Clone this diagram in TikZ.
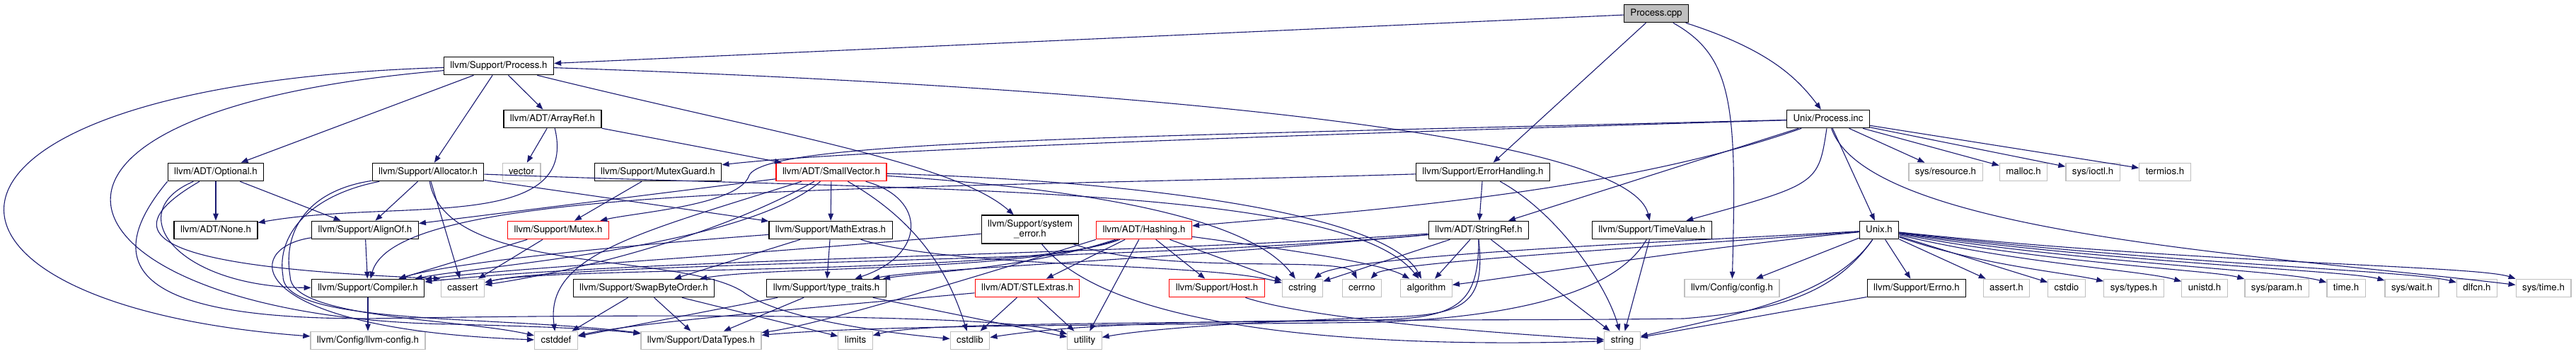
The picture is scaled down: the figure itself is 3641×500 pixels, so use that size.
\documentclass[tikz,border=0pt]{standalone}
\usepackage{fontspec}
\setmainfont{TeX Gyre Heros}
\usepackage{xcolor}
\usepackage{tikz}
\usetikzlibrary{arrows.meta}
\definecolor{edgeblue}{HTML}{191970}
\definecolor{grey75}{HTML}{BFBFBF}

\begin{document}
\begin{tikzpicture}[
      x=1pt, y=-1pt,
      inc/.style={draw=black, line width=1.2pt, fill=white, inner xsep=9pt, inner ysep=0pt,
        minimum height=25.5pt, text height=9.6pt, text depth=3pt,
        font=\fontsize{13.3}{14}\selectfont},
      ext/.style={inc, draw=grey75},
      cut/.style={inc, draw=red},
      root/.style={inc, fill=grey75},
      dep/.style={draw=edgeblue, line width=1.1pt, -{Triangle[length=10pt,width=7.5pt]}}
    ]
      \useasboundingbox (0,0) rectangle (3641,500);

      % row 0 to 2
      \node[root] (pcpp) at (2341,19) {Process.cpp};
      \node[inc] (ph) at (705,93) {llvm/Support/Process.h};
      \node[inc] (aref) at (781,168) {llvm/ADT/ArrayRef.h};
      \node[inc] (pinc) at (2584,168) {Unix/Process.inc};

      % row 3
      \node[inc] (opt) at (305,243) {llvm/ADT/Optional.h};
      \node[inc] (alloc) at (605,243) {llvm/Support/Allocator.h};
      \node[ext] (vec) at (737,243) {vector};
      \node[inc] (mguard) at (930,243) {llvm/Support/MutexGuard.h};
      \node[cut] (svec) at (1175,243) {llvm/ADT/SmallVector.h};
      \node[inc] (errh) at (2096,243) {llvm/Support/ErrorHandling.h};
      \node[ext] (sysres) at (2750,243) {sys/resource.h};
      \node[ext] (malloc) at (2860,243) {malloc.h};
      \node[ext] (ioctl) at (2958,243) {sys/ioctl.h};
      \node[ext] (termios) at (3060,243) {termios.h};

      % row 4
      \node[inc] (none) at (305,325) {llvm/ADT/None.h};
      \node[inc] (align) at (516,325) {llvm/Support/AlignOf.h};
      \node[cut] (mutex) at (789,325) {llvm/Support/Mutex.h};
      \node[inc] (mathx) at (1174,325) {llvm/Support/MathExtras.h};
      \node[inc, align=center, minimum height=40pt, text height=23.6pt, text depth=3pt]
        (syserr) at (1456,324) {llvm/Support/system\\\_error.h};
      \node[cut] (hash) at (1617,325) {llvm/ADT/Hashing.h};
      \node[inc] (sref) at (2090,325) {llvm/ADT/StringRef.h};
      \node[inc] (tval) at (2335,325) {llvm/Support/TimeValue.h};
      \node[inc] (unixh) at (2656,325) {Unix.h};

      % row 5
      \node[inc] (comp) at (520,407) {llvm/Support/Compiler.h};
      \node[ext] (cassert) at (654,407) {cassert};
      \node[inc] (swap) at (910,407) {llvm/Support/SwapByteOrder.h};
      \node[inc] (ttr) at (1168,407) {llvm/Support/type\_traits.h};
      \node[cut] (stlx) at (1452,407) {llvm/ADT/STLExtras.h};
      \node[cut] (host) at (1720,407) {llvm/Support/Host.h};
      \node[ext] (cstring) at (1841,407) {cstring};
      \node[ext] (cerrno) at (1925,407) {cerrno};
      \node[ext] (algo) at (2016,407) {algorithm};
      \node[ext] (cfg) at (2448,407) {llvm/Config/config.h};
      \node[inc] (errno) at (2709,407) {llvm/Support/Errno.h};
      \node[ext] (asserth) at (2836,407) {assert.h};
      \node[ext] (cstdio) at (2921,407) {cstdio};
      \node[ext] (systypes) at (3016,407) {sys/types.h};
      \node[ext] (unistd) at (3116,407) {unistd.h};
      \node[ext] (sysparam) at (3218,407) {sys/param.h};
      \node[ext] (timeh) at (3316,407) {time.h};
      \node[ext] (syswait) at (3409,407) {sys/wait.h};
      \node[ext] (dlfcn) at (3501,407) {dlfcn.h};
      \node[ext] (systime) at (3595,407) {sys/time.h};

      % row 6
      \node[ext] (lcfg) at (520,481) {llvm/Config/llvm-config.h};
      \node[ext] (cstddef) at (786,481) {cstddef};
      \node[ext] (dtypes) at (991,481) {llvm/Support/DataTypes.h};
      \node[ext] (limits) at (1209,481) {limits};
      \node[ext] (cstdlib) at (1371,481) {cstdlib};
      \node[ext] (utility) at (1533,481) {utility};
      \node[ext] (string) at (2293,481) {string};

      % Process.cpp
      \draw[dep] (pcpp) -- (ph);
      \draw[dep] (pcpp) -- (errh);
      \draw[dep] (pcpp) .. controls (2450,80) and (2455,150) .. (cfg);
      \draw[dep] (pcpp) .. controls (2500,70) and (2540,110) .. (pinc);

      % Process.h
      \draw[dep] (ph) -- (opt);
      \draw[dep] (ph) -- (alloc);
      \draw[dep] (ph) -- (aref);
      \draw[dep] (ph) .. controls (-165,120) and (-165,430) .. (lcfg);
      \draw[dep] (ph) .. controls (-80,160) and (80,450) .. (640,458) .. controls (800,462) and (860,466) .. (dtypes);
      \draw[dep] (ph) .. controls (1500,120) and (2300,180) .. (tval);
      \draw[dep] (ph) .. controls (1100,190) and (1350,230) .. (syserr);

      % ArrayRef.h, Optional.h
      \draw[dep] (aref) -- (vec);
      \draw[dep] (aref) -- (svec);
      \draw[dep] (aref) .. controls (820,330) and (560,280) .. (none);
      \draw[dep] (opt) -- (none);
      \draw[dep] (opt) -- (align);
      \draw[dep] (opt) .. controls (170,300) and (250,405) .. (comp);
      \draw[dep] (opt) .. controls (120,350) and (300,380) .. (cassert.north west);
      \draw[dep] (opt.south west) .. controls (100,420) and (300,450) .. (520,450) .. controls (800,445) and (1420,440) .. (utility);

      % Allocator.h
      \draw[dep] (alloc) -- (align);
      \draw[dep] (alloc) -- (mathx);
      \draw[dep] (alloc) -- (cassert);
      \draw[dep] (alloc) .. controls (430,270) and (400,330) .. (410,390) .. controls (410,450) and (650,450) .. (cstddef);
      \draw[dep] (alloc) .. controls (440,275) and (390,330) .. (400,390) .. controls (400,460) and (700,445) .. (dtypes);
      \draw[dep] (alloc) .. controls (630,390) and (960,355) .. (1050,412) .. controls (1100,450) and (1250,470) .. (cstdlib);
      \draw[dep] (alloc) .. controls (1300,270) and (1900,260) .. (algo);

      % MutexGuard.h, Mutex.h
      \draw[dep] (mguard) -- (mutex);
      \draw[dep] (mutex) -- (comp);
      \draw[dep] (mutex) -- (cassert);

      % SmallVector.h
      \draw[dep] (svec) -- (align);
      \draw[dep] (svec) -- (mathx);
      \draw[dep] (svec) .. controls (1050,350) and (680,375) .. (comp);
      \draw[dep] (svec) .. controls (1000,340) and (800,385) .. (cassert);
      \draw[dep] (svec) .. controls (900,330) and (770,360) .. (cstddef);
      \draw[dep] (svec) .. controls (1310,280) and (1310,360) .. (ttr);
      \draw[dep] (svec) .. controls (1310,320) and (1345,400) .. (cstdlib);
      \draw[dep] (svec) .. controls (1600,255) and (1960,300) .. (algo);
      \draw[dep] (svec) .. controls (1500,265) and (1760,300) .. (cstring);

      % MathExtras.h, system_error.h
      \draw[dep] (mathx) -- (swap);
      \draw[dep] (mathx) -- (ttr);
      \draw[dep] (mathx) .. controls (900,345) and (640,370) .. (comp);
      \draw[dep] (mathx) .. controls (1350,380) and (1700,370) .. (cstring);
      \draw[dep] (syserr) .. controls (1000,365) and (700,380) .. (comp);
      \draw[dep] (syserr) .. controls (1650,390) and (1900,360) .. (cerrno);
      \draw[dep] (syserr) .. controls (1580,480) and (2000,490) .. (string);

      % Hashing.h, STLExtras.h, Host.h
      \draw[dep] (hash) -- (stlx);
      \draw[dep] (hash) -- (host);
      \draw[dep] (hash) -- (utility);
      \draw[dep] (hash) -- (cstring);
      \draw[dep] (hash) .. controls (1800,350) and (1950,370) .. (algo);
      \draw[dep] (hash) .. controls (1450,380) and (1300,385) .. (ttr);
      \draw[dep] (hash) .. controls (1450,385) and (1100,375) .. (swap);
      \draw[dep] (hash) .. controls (1450,390) and (780,375) .. (cassert);
      \draw[dep] (hash.south west) .. controls (1350,400) and (1150,460) .. (dtypes);
      \draw[dep] (stlx) .. controls (1200,430) and (900,455) .. (cstddef);
      \draw[dep] (stlx) -- (cstdlib);
      \draw[dep] (stlx) -- (utility);
      \draw[dep] (host) .. controls (1850,450) and (2100,470) .. (string);

      % SwapByteOrder.h, type_traits.h, AlignOf.h, Compiler.h
      \draw[dep] (swap) -- (cstddef);
      \draw[dep] (swap) -- (dtypes);
      \draw[dep] (swap) -- (limits);
      \draw[dep] (ttr) -- (dtypes);
      \draw[dep] (ttr) -- (cstddef);
      \draw[dep] (ttr) -- (utility);
      \draw[dep] (align) -- (comp);
      \draw[dep] (align) .. controls (340,350) and (340,465) .. (cstddef);
      \draw[dep] (comp) -- (lcfg);

      % ErrorHandling.h, StringRef.h, TimeValue.h
      \draw[dep] (errh) -- (sref);
      \draw[dep] (errh) .. controls (1200,270) and (560,260) .. (comp);
      \draw[dep] (errh) .. controls (2200,300) and (2270,400) .. (string);
      \draw[dep] (sref) -- (algo);
      \draw[dep] (sref) -- (cstring);
      \draw[dep] (sref) -- (string);
      \draw[dep] (sref) .. controls (1600,360) and (900,365) .. (comp);
      \draw[dep] (sref) .. controls (1600,370) and (1300,380) .. (ttr);
      \draw[dep] (sref) .. controls (1600,370) and (800,370) .. (cassert);
      \draw[dep] (sref.south) .. controls (2090,430) and (2060,448) .. (1950,452) .. controls (1600,458) and (1300,455) .. (limits);
      \draw[dep] (sref.south) .. controls (2100,430) and (2070,445) .. (1960,448) .. controls (1750,455) and (1620,465) .. (utility);
      \draw[dep] (tval) -- (string);
      \draw[dep] (tval) .. controls (2280,420) and (2120,448) .. (1950,455) .. controls (1600,460) and (1250,458) .. (dtypes);

      % Unix/Process.inc
      \draw[dep] (pinc) -- (unixh);
      \draw[dep] (pinc) -- (sref);
      \draw[dep] (pinc) -- (sysres);
      \draw[dep] (pinc) -- (malloc);
      \draw[dep] (pinc) -- (ioctl);
      \draw[dep] (pinc) -- (termios);
      \draw[dep] (pinc) .. controls (2570,260) .. (tval);
      \draw[dep] (pinc) .. controls (2280,275) and (1900,300) .. (hash);
      \draw[dep] (pinc) .. controls (1500,200) and (1150,218) .. (mguard);
      \draw[dep] (pinc) .. controls (1500,195) and (1070,200) .. (1058,250) .. controls (1040,290) and (900,300) .. (mutex);
      \draw[dep] (pinc) .. controls (2640,330) and (3200,360) .. (systime);

      % Unix.h
      \draw[dep] (unixh) -- (cfg);
      \draw[dep] (unixh) -- (errno);
      \draw[dep] (unixh) -- (asserth);
      \draw[dep] (unixh) -- (cstdio);
      \draw[dep] (unixh) .. controls (2800,375) and (2920,385) .. (systypes);
      \draw[dep] (unixh) .. controls (2850,372) and (3030,382) .. (unistd);
      \draw[dep] (unixh) .. controls (2900,372) and (3130,382) .. (sysparam);
      \draw[dep] (unixh) .. controls (2950,372) and (3230,382) .. (timeh);
      \draw[dep] (unixh) .. controls (3000,372) and (3320,382) .. (syswait);
      \draw[dep] (unixh) .. controls (3050,372) and (3410,382) .. (dlfcn);
      \draw[dep] (unixh) .. controls (3100,372) and (3500,375) .. (systime);
      \draw[dep] (unixh) .. controls (2400,350) and (2150,390) .. (algo);
      \draw[dep] (unixh) .. controls (2400,345) and (1960,370) .. (cerrno);
      \draw[dep] (unixh) .. controls (2400,340) and (1900,360) .. (cstring);
      \draw[dep] (unixh) .. controls (2590,420) and (2450,445) .. (string);
      \draw[dep] (unixh) .. controls (2590,420) and (2500,440) .. (2380,450) .. controls (2000,455) and (1600,445) .. (cstdlib);
      \draw[dep] (errno) -- (string);
    \end{tikzpicture}
\end{document}
